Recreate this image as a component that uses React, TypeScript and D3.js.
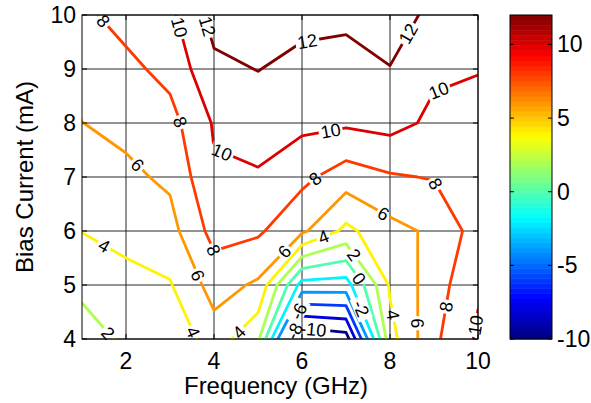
import React, { useMemo } from "react";
import * as d3 from "d3";

// ---------- data ----------
const freqs = [1, 2, 3, 4, 5, 6, 7, 8, 9, 10]; // GHz
const currents = [4, 5, 6, 7, 8, 9, 10]; // mA
// one row of values per bias current, one value per frequency
const row4 = [1.0, 2.4, 2.35, 5.1, 2.4, -11.8, -11.0, 3.26, 7.6, 10.3];
const row5 = [2.5, 3.5, 3.85, 6.8, 5.7, -2.8, -2.9, 4.25, 7.03, 9.75];
const row6 = [4.05, 4.5, 5.3, 8.7, 8.3, 6.37, 3.5, 5.37, 6.37, 8.88];
const row7 = [5.0, 5.6, 6.35, 9.8, 9.8, 8.5, 7.0, 7.8, 8.12, 9.2];
const row8 = [5.98, 6.5, 7.3, 10.18, 10.9, 10.47, 10.3, 10.66, 9.6, 9.6];
const row9 = [6.8, 7.5, 8.6, 11.56, 12.05, 11.4, 11.3, 11.9, 10.3, 10.05];
const row10 = [7.6, 8.7, 9.55, 12.7, 13.0, 12.6, 12.4, 13.5, 11.2, 11.0];
const rows = [row4, row5, row6, row7, row8, row9, row10];

const levels = [-10, -8, -6, -4, -2, 0, 2, 4, 6, 8, 10, 12];
const xTicks = [2, 4, 6, 8, 10];
const yTicks = [4, 5, 6, 7, 8, 9, 10];
const cbTicks = [-10, -5, 0, 5, 10];
const colorDomain = [-10, 12];

// contour labels: level, approximate frequency, approximate current
const labelLevels = [8, 10, 12, 8, 10, 6, 12, 12, 10, 10, 8, 8, 6, 6, 4, 2, 0, -2, 4, 6, 8, 10, 8, 6, 4, 2, 4, 4, -8, -6, -10];
const labelFreqs = [1.43, 3.12, 3.8, 3.17, 4.15, 2.23, 6.13, 8.4, 6.66, 9.12, 6.36, 9.05, 7.9, 5.56, 6.5, 7.07, 7.15, 7.27, 8.02, 8.67, 9.27, 9.92, 4.0, 3.63, 1.47, 1.62, 3.52, 4.6, 5.45, 5.95, 6.25];
const labelCurrents = [9.85, 9.75, 9.78, 8.0, 7.4, 7.2, 9.47, 9.66, 7.81, 8.58, 6.91, 6.88, 6.39, 5.65, 5.86, 5.49, 5.03, 4.54, 4.44, 4.29, 4.6, 4.26, 5.65, 5.18, 5.68, 4.13, 4.13, 4.1, 4.3, 4.5, 4.12];

// ---------- layout ----------
const W = 591, H = 403;
const PL = 82, PR = 478, PT = 15, PB = 339;
const CBL = 510, CBR = 552;
const FONT = "Arial, 'Liberation Sans', Helvetica, sans-serif";

function jet(t: number) {
  const c = (v: number) => Math.max(0, Math.min(1, v));
  const r = c(Math.min(4 * t - 1.5, -4 * t + 4.5));
  const g = c(Math.min(4 * t - 0.5, -4 * t + 3.5));
  const b = c(Math.min(4 * t + 0.5, -4 * t + 2.5));
  return d3.rgb(r * 255, g * 255, b * 255).formatHex();
}
const colorOf = (v: number) => jet((v - colorDomain[0]) / (colorDomain[1] - colorDomain[0]));

export default function App() {
  const x = d3.scaleLinear().domain([1, 10]).range([PL, PR]);
  const y = d3.scaleLinear().domain([4, 10]).range([PB, PT]);
  const cb = d3.scaleLinear().domain(colorDomain).range([PB, PT]);

  const nx = freqs.length, ny = currents.length;
  const values = useMemo(() => rows.flat(), []);

  const contours = useMemo(() => {
    const gen = d3.contours().size([nx, ny]).thresholds(levels);
    return gen(values);
  }, [values]);

  // grid coordinate -> data (value i sits at i + 0.5)
  const gx = (c: number) => freqs[0] + (c - 0.5) * (freqs[1] - freqs[0]);
  const gy = (c: number) => currents[0] + (c - 0.5) * (currents[1] - currents[0]);
  const toScreen = (p: number[]) => [x(gx(p[0])), y(gy(p[1]))];

  const paths = contours.map((cont) => {
    const rings: number[][][] = [];
    cont.coordinates.forEach((poly) => poly.forEach((ring) => rings.push(ring.map(toScreen))));
    const d = rings.map((r) => "M" + r.map((p) => p[0].toFixed(2) + "," + p[1].toFixed(2)).join("L") + "Z").join("");
    return { level: cont.value, d, rings };
  });

  const fontLabel = 18;
  const labels = labelLevels.map((lv, i) => {
    const px = x(labelFreqs[i]), py = y(labelCurrents[i]);
    const pc = paths.find((p) => p.level === lv);
    let best = { d: Infinity, x: px, y: py, ang: 0 };
    if (pc) {
      pc.rings.forEach((r) => {
        for (let k = 0; k < r.length - 1; k++) {
          const a = r[k], b = r[k + 1];
          const inside = (q: number[]) => q[0] >= PL - 0.5 && q[0] <= PR + 0.5 && q[1] >= PT - 0.5 && q[1] <= PB + 0.5;
          if (!inside(a) || !inside(b)) continue;
          const vx = b[0] - a[0], vy = b[1] - a[1];
          const L2 = vx * vx + vy * vy;
          if (L2 < 1e-6) continue;
          let t = ((px - a[0]) * vx + (py - a[1]) * vy) / L2;
          t = Math.max(0, Math.min(1, t));
          const qx = a[0] + t * vx, qy = a[1] + t * vy;
          const dd = (qx - px) ** 2 + (qy - py) ** 2;
          if (dd < best.d) {
            let ang = (Math.atan2(vy, vx) * 180) / Math.PI;
            if (ang > 90) ang -= 180;
            if (ang < -90) ang += 180;
            best = { d: dd, x: qx, y: qy, ang };
          }
        }
      });
    }
    const text = String(lv);
    const tw = text.length * fontLabel * 0.556;
    return { text, x: best.x, y: best.y, ang: best.ang, tw };
  });

  const nBands = 64;
  const bands = d3.range(nBands).map((i) => {
    const v0 = colorDomain[0] + (i / nBands) * (colorDomain[1] - colorDomain[0]);
    const v1 = colorDomain[0] + ((i + 1) / nBands) * (colorDomain[1] - colorDomain[0]);
    return { v0, v1, color: jet((i + 0.5) / nBands) };
  });

  return (
    <svg width={W} height={H} style={{ display: "block", position: "absolute", left: 0, top: 0, background: "#fff" }} fontFamily={FONT}>
      <defs>
        <clipPath id="plotClip">
          <rect x={PL} y={PT} width={PR - PL} height={PB - PT} />
        </clipPath>
        <mask id="labelMask" maskUnits="userSpaceOnUse" x={0} y={0} width={W} height={H}>
          <rect x={0} y={0} width={W} height={H} fill="#fff" />
          {labels.map((l, i) => (
            <rect key={i} x={-l.tw / 2 - 2} y={-fontLabel * 0.42} width={l.tw + 4} height={fontLabel * 0.84} fill="#000"
              transform={`translate(${l.x},${l.y}) rotate(${l.ang})`} />
          ))}
        </mask>
      </defs>
      <rect x={0} y={0} width={W} height={H} fill="#fff" />
      {/* grid */}
      <g stroke="#262626" strokeWidth={1}>
        {xTicks.map((t) => (
          <line key={"gx" + t} x1={x(t)} x2={x(t)} y1={PT} y2={PB} />
        ))}
        {yTicks.map((t) => (
          <line key={"gy" + t} x1={PL} x2={PR} y1={y(t)} y2={y(t)} />
        ))}
      </g>
      {/* contour lines */}
      <g clipPath="url(#plotClip)">
        <g mask="url(#labelMask)" fill="none" strokeWidth={2.8} strokeLinejoin="round">
          {paths.map((p) => (
            <path key={p.level} d={p.d} stroke={colorOf(p.level)} />
          ))}
        </g>
      </g>
      {/* contour labels */}
      <g fontSize={fontLabel} fill="#000" textAnchor="middle">
        {labels.map((l, i) => (
          <text key={i} transform={`translate(${l.x},${l.y}) rotate(${l.ang})`} dy="0.36em">{l.text}</text>
        ))}
      </g>
      {/* axes box */}
      <rect x={PL} y={PT} width={PR - PL} height={PB - PT} fill="none" stroke="#000" strokeWidth={1} />
      <g stroke="#000" strokeWidth={1}>
        {xTicks.map((t) => (
          <g key={"tx" + t}>
            <line x1={x(t)} x2={x(t)} y1={PB} y2={PB - 5} />
            <line x1={x(t)} x2={x(t)} y1={PT} y2={PT + 5} />
          </g>
        ))}
        {yTicks.map((t) => (
          <g key={"ty" + t}>
            <line x1={PL} x2={PL + 5} y1={y(t)} y2={y(t)} />
            <line x1={PR} x2={PR - 5} y1={y(t)} y2={y(t)} />
          </g>
        ))}
      </g>
      <g fontSize={23} fill="#000">
        {xTicks.map((t) => (
          <text key={"lx" + t} x={x(t)} y={PB + 30} textAnchor="middle">{t}</text>
        ))}
        {yTicks.map((t) => (
          <text key={"ly" + t} x={76} y={y(t) + 8} textAnchor="end">{t}</text>
        ))}
      </g>
      <text x={(PL + PR) / 2 - 4} y={394} fontSize={24} textAnchor="middle">Frequency (GHz)</text>
      <text transform={`translate(33,${(PT + PB) / 2}) rotate(-90)`} fontSize={24} textAnchor="middle">Bias Current (mA)</text>
      {/* colorbar */}
      <g>
        {bands.map((b, i) => (
          <rect key={i} x={CBL} y={cb(b.v1)} width={CBR - CBL} height={cb(b.v0) - cb(b.v1) + 0.5} fill={b.color} />
        ))}
        <rect x={CBL} y={PT} width={CBR - CBL} height={PB - PT} fill="none" stroke="#000" strokeWidth={1} />
        <g stroke="#000" strokeWidth={1}>
          {cbTicks.map((t) => (
            <g key={"cbt" + t}>
              <line x1={CBL} x2={CBL + 4} y1={cb(t)} y2={cb(t)} />
              <line x1={CBR} x2={CBR - 4} y1={cb(t)} y2={cb(t)} />
            </g>
          ))}
        </g>
        <g fontSize={23} fill="#000">
          {cbTicks.map((t) => (
            <text key={"cbl" + t} x={557} y={cb(t) + 8}>{t}</text>
          ))}
        </g>
      </g>
    </svg>
  );
}
